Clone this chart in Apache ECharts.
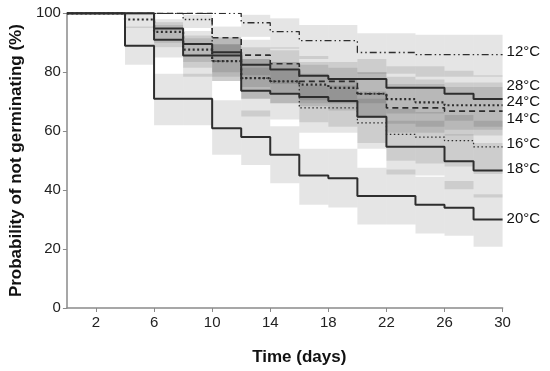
<!DOCTYPE html>
<html>
<head>
<meta charset="utf-8">
<script src="https://cdn.jsdelivr.net/npm/echarts@6/dist/echarts.min.js"></script>
<style>html,body{margin:0;padding:0;background:#fff}#c{width:550px;height:371px}</style>
</head>
<body>
<div id="c"></div>
<script>
// Step start times (days); each value holds until the next time, last until endTime
const times = [0, 4, 6, 8, 10, 12, 14, 16, 18, 20, 22, 24, 26, 28];
const endTime = 30;
const xTickLabels = [2, 6, 10, 14, 18, 22, 26, 30];

// Kaplan-Meier estimates (% not germinated)
const s12 = [100, 100, 100, 100, 100, 96.8, 93.8, 90.7, 90.7, 86.7, 86.7, 86, 86, 86];
const s14 = [100, 100, 100, 100, 91.7, 85.8, 82.9, 76.9, 76.9, 72.7, 67.9, 67.9, 66.8, 66.8];
const s16 = [100, 100, 100, 97.9, 83.8, 78, 76.9, 67.9, 67.9, 62.8, 58.9, 58, 56.8, 54.7];
const s18 = [100, 100, 91, 85.7, 85.7, 73.7, 72.7, 71.6, 70.2, 64.9, 54.7, 54.7, 49.8, 46.7];
const s20 = [100, 89, 71, 71, 61, 58, 52, 45, 44, 38, 38, 35, 34, 30];
const s24 = [100, 97.9, 93.7, 87.7, 83.8, 78, 76.9, 75.8, 74.7, 72.7, 70.9, 69.8, 68.8, 68.8];
const s28 = [100, 100, 94.8, 89.6, 86.8, 82.5, 80.9, 78.8, 77.7, 77.7, 74.7, 74.7, 72.7, 70.9];

// Confidence bands
const lo12 = [100, 100, 100, 100, 100, 92, 88, 84.5, 84.5, 79.5, 79.5, 78.5, 78.5, 78.5];
const hi12 = [100, 100, 100, 100, 100, 99.5, 98.3, 96, 96, 93.2, 93.2, 92.7, 92.7, 92.7];
const lo14 = [100, 100, 100, 100, 86, 79, 76, 69.5, 69.5, 64.5, 59.5, 59.5, 58.5, 58.5];
const hi14 = [100, 100, 100, 100, 95.5, 91, 88.5, 83.5, 83.5, 80, 76, 76, 75, 75];
const lo16 = [100, 100, 100, 95, 77, 71, 69.5, 59.5, 59.5, 54, 50, 49, 48, 45.5];
const hi16 = [100, 100, 100, 99.5, 89.5, 84.5, 83.5, 75.5, 75.5, 71, 67.5, 66.5, 65.5, 63.5];
const lo18 = [100, 100, 85, 78.5, 78.5, 65, 64, 63, 61.5, 56, 45.3, 45, 40.3, 37.5];
const hi18 = [100, 100, 96, 91.5, 91.5, 81.5, 80.5, 79.5, 78, 73.5, 63.5, 63.5, 59, 56];
const lo20 = [100, 82.5, 62, 62, 52, 48.5, 42.3, 35, 34.1, 28.3, 28.3, 25.3, 24.5, 20.8];
const hi20 = [100, 95.5, 79.5, 79.5, 70.5, 67, 61.7, 54, 54, 47.6, 47, 44.5, 43.1, 38.6];
const lo24 = [100, 95, 88.5, 81.5, 77, 71, 69.5, 68.5, 67, 64.5, 62.5, 61.5, 60.5, 60.5];
const hi24 = [100, 99.5, 97, 92.5, 89.5, 84.5, 83.5, 82.5, 81.5, 80, 78.5, 77.5, 76.5, 76.5];
const lo28 = [100, 100, 90, 83.5, 80, 75, 73, 70.5, 69.5, 69.5, 66, 66, 63.5, 61.5];
const hi28 = [100, 100, 98, 94, 92, 88.5, 87.5, 85.5, 84.5, 84.5, 82, 82, 80.5, 79];

// Curve labels and the value level at which each label sits
const labelNames = ['12°C', '28°C', '24°C', '14°C', '16°C', '18°C', '20°C'];
const labelLevels = [87.0, 75.4, 69.8, 64.2, 55.8, 47.3, 30.2];

const FONT = 'Liberation Sans, Arial, Helvetica, sans-serif';
const LINE = '#2e2e2e';

function stepData(vals) {
  const d = times.map((t, i) => [t, vals[i]]);
  d.push([endTime, vals[vals.length - 1]]);
  return d;
}
function bandData(lo, hi) {
  const d = [];
  for (let i = 0; i < times.length; i++) {
    const t1 = i + 1 < times.length ? times[i + 1] : endTime;
    if (hi[i] - lo[i] > 0) d.push([times[i], t1, lo[i], hi[i]]);
  }
  return d;
}
function bandSeries(lo, hi) {
  return {
    type: 'custom',
    silent: true,
    z: 1,
    data: bandData(lo, hi),
    encode: { x: [0, 1], y: [2, 3] },
    renderItem: function (params, api) {
      const a = api.coord([api.value(0), api.value(3)]);
      const b = api.coord([api.value(1), api.value(2)]);
      return {
        type: 'rect',
        shape: { x: a[0], y: a[1], width: b[0] - a[0], height: b[1] - a[1] },
        style: { fill: 'rgba(0,0,0,0.1)' }
      };
    }
  };
}
function lineSeries(vals, width, type) {
  return {
    type: 'line',
    step: 'end',
    z: 5,
    showSymbol: false,
    symbol: 'none',
    silent: true,
    data: stepData(vals),
    lineStyle: { color: LINE, width: width, type: type, cap: 'butt' }
  };
}

const chart = echarts.init(document.getElementById('c'), null, { renderer: 'canvas' });
chart.setOption({
  animation: false,
  backgroundColor: '#fff',
  grid: { left: 58, right: 47.4, top: 13.3, bottom: 62, containLabel: false },
  xAxis: {
    type: 'value', min: 0, max: 30,
    name: 'Time (days)', nameLocation: 'middle', nameGap: 41,
    nameTextStyle: { fontFamily: FONT, fontWeight: 'bold', fontSize: 17, color: '#111', padding: [0, 0, 0, 29] },
    axisLine: { show: true, lineStyle: { color: '#8a8a8a', width: 1.5 } },
    axisTick: { show: true, length: 4, customValues: xTickLabels, lineStyle: { color: '#8a8a8a' } },
    axisLabel: { customValues: xTickLabels, fontFamily: FONT, fontSize: 15, color: '#222', margin: 7 },
    splitLine: { show: false }
  },
  yAxis: {
    type: 'value', min: 0, max: 100, interval: 20,
    name: 'Probability of not germinating (%)', nameLocation: 'middle', nameGap: 39, nameRotate: 90,
    nameTextStyle: { fontFamily: FONT, fontWeight: 'bold', fontSize: 17, color: '#111' },
    axisLine: { show: true, lineStyle: { color: '#8a8a8a', width: 1.5 } },
    axisTick: { show: true, length: 4, lineStyle: { color: '#8a8a8a' } },
    axisLabel: { fontFamily: FONT, fontSize: 15, color: '#222', margin: 6 },
    splitLine: { show: false }
  },
  series: [
    bandSeries(lo12, hi12), bandSeries(lo14, hi14), bandSeries(lo16, hi16),
    bandSeries(lo18, hi18), bandSeries(lo20, hi20), bandSeries(lo24, hi24),
    bandSeries(lo28, hi28),
    lineSeries(s12, 1.3, [7, 3, 1.5, 3, 1.5, 3]),
    lineSeries(s14, 1.6, [6, 4]),
    lineSeries(s16, 1.3, [1.5, 2.5]),
    lineSeries(s24, 2.2, [2, 2.5]),
    lineSeries(s28, 2, 'solid'),
    lineSeries(s18, 2, 'solid'),
    lineSeries(s20, 2, 'solid')
  ]
});

const labels = labelNames.map((name, i) => {
  const p = chart.convertToPixel({ gridIndex: 0 }, [endTime, labelLevels[i]]);
  return {
    type: 'text', x: p[0] + 4, y: p[1],
    style: { text: name, fontFamily: FONT, fontSize: 15, fill: '#111', verticalAlign: 'middle', align: 'left' },
    z: 10
  };
});
chart.setOption({ graphic: labels });
</script>
</body>
</html>
